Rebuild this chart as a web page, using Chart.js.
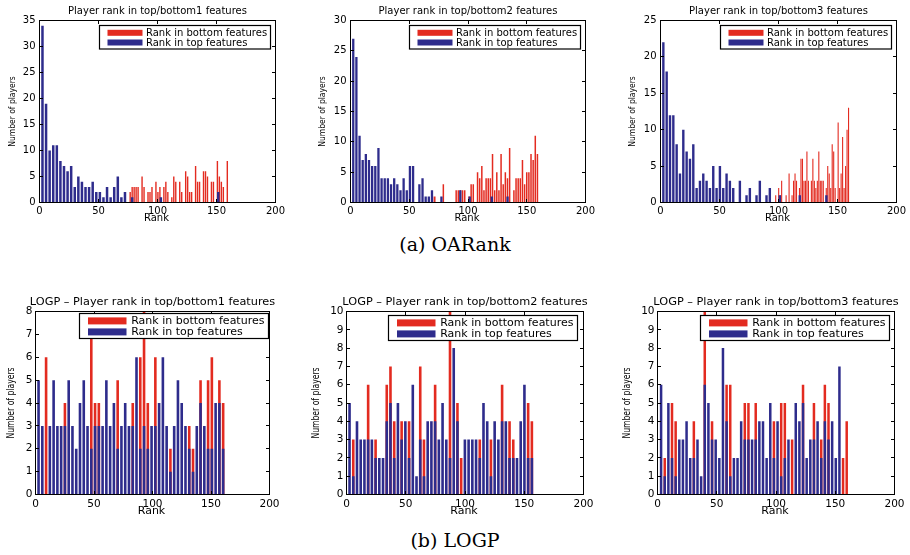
<!DOCTYPE html>
<html><head><meta charset="utf-8">
<script src="https://cdn.jsdelivr.net/npm/chart.js@4.4.1/dist/chart.umd.min.js"></script>
<style>
html,body{margin:0;padding:0;background:#fff;}
body{width:910px;height:555px;position:relative;overflow:hidden;}
canvas{position:absolute;}
.cap{position:absolute;font-family:"DejaVu Serif",serif;font-size:19px;line-height:22px;color:#000;white-space:nowrap;transform:translateX(-50%);}
</style></head><body>
<canvas id="a1" width="303" height="226" style="left:0;top:0"></canvas>
<canvas id="a2" width="303" height="226" style="left:303px;top:0"></canvas>
<canvas id="a3" width="304" height="226" style="left:606px;top:0"></canvas>
<canvas id="b1" width="303" height="230" style="left:0;top:290px"></canvas>
<canvas id="b2" width="303" height="230" style="left:303px;top:290px"></canvas>
<canvas id="b3" width="304" height="230" style="left:606px;top:290px"></canvas>
<div class="cap" style="left:455px;top:233px">(a) OARank</div>
<div class="cap" style="left:455px;top:529px">(b) LOGP</div>
<script>
// ---------- data ----------
const xTicks = [0, 50, 100, 150, 200];
const legendLabels = ['Rank in bottom features', 'Rank in top features'];
const titlesA = ['Player rank in top/bottom1 features', 'Player rank in top/bottom2 features', 'Player rank in top/bottom3 features'];
const titlesB = ['LOGP – Player rank in top/bottom1 features', 'LOGP – Player rank in top/bottom2 features', 'LOGP – Player rank in top/bottom3 features'];

// OARank, top/bottom1 (histogram bin ranges, then counts)
const oa1TopRange = [1, 153];
const oa1Top = [34,19,10,11,11,8,7,6,7,3, 5,4,3,3,4,2,2,1,3,1, 3,5,1,2,0,1,0,0,0,0, 0,0,0,1,0,0,0,0,0,0, 0,0,0,0,0,0,0,0,0,2];
const oa1BottomRange = [76, 160];
const oa1Bottom = [2,3,3,3,3,0,5,3,0,2, 2,3,0,4,2,3,0,3,4,2, 0,1,5,4,0,4,2,0,6,5, 2,2,0,7,4,4,0,6,6,5, 0,4,4,0,8,5,4,3,0,8];

// OARank, top/bottom2
const oa2TopRange = [1, 135];
const oa2Top = [27,24,11,7,8,7,6,6,9,4, 4,4,3,4,3,2,4,2,6,6, 0,3,4,1,1,2,0,0,1,0, 0,0,0,0,2,0,0,1,0,0, 0,0,0,0,1,0,0,0,0,1];
const oa2BottomRange = [69, 160];
const oa2Bottom = [1,1,0,0,0,3,0,0,0,0, 0,2,2,2,2,2,0,1,3,3, 0,5,4,6,2,4,4,4,8,2, 5,2,8,3,5,4,9,0,2,4, 4,4,7,3,5,5,8,7,11,8];

// OARank, top/bottom3
const oa3TopRange = [1, 142];
const oa3Top = [22,18,12,12,8,4,10,7,6,8, 2,3,4,3,2,5,2,5,2,4, 3,2,0,3,0,1,2,0,1,3, 0,1,2,0,0,1,0,0,0,0, 0,1,0,0,0,0,0,0,0,1];
const oa3BottomRange = [97, 160];
const oa3Bottom = [1,0,2,1,3,0,0,1,0,4, 0,1,3,4,3,0,2,6,6,3, 3,7,3,0,3,6,3,2,3,7, 3,3,3,0,2,5,4,2,8,7, 2,0,11,2,4,9,2,5,10,13];

// LOGP, top/bottom1
const lg1Range = [1, 162];
const lg1Top = [5,3,0,3,5,3,3,3,5,3, 2,4,5,3,2,3,3,3,5,3, 4,2,3,4,3, 3,6,2,3,2, 3,3,4,6,3, 1,3,5,4,3, 2,1,3,4,3, 2,2,4,4,2];
const lg1Bottom = [0,0,6,0,0,0,0,4,0,0, 0,0,0,0,7,4,4,0,0,0, 0,5,0,0,0, 4,0,6,8,4, 0,6,0,0,0, 2,0,0,0,0, 3,2,0,5,0, 5,6,0,5,4];

// LOGP, top/bottom2
const lg2Range = [1, 158];
const lg2Top = [5,1,4,3,3,3,3,2,2,2, 4,5,2,5,3,4,2,6,1,3, 1,4,4,4,3, 5,3,2,8,4, 0,3,3,3,3, 2,5,4,1,4, 3,4,4,2,2, 2,4,6,2,2];
const lg2Bottom = [0,3,0,0,0,6,0,3,0,0, 6,7,4,0,4,0,4,0,0,7, 3,0,0,6,0, 0,0,10,0,5, 2,0,0,0,0, 3,0,0,3,0, 0,6,0,4,3, 0,0,0,5,4];

// LOGP, top/bottom3
const lg3Range = [1.5, 161.2];
const lg3Top = [6,1,5,2,1,3,3,4,2,2, 3,1,6,5,3,3,2,8,4,1, 2,2,4,3,3,3,3,4,4,2, 5,2,4,1,2,3,0,5,4,5, 2,3,3,4,2,4,3,4,2,7, 0,0];
const lg3Bottom = [0,2,0,5,4,0,0,0,0,4, 0,0,10,0,4,0,0,0,6,6, 0,0,0,5,5,0,5,0,0,0, 0,4,0,5,5,0,3,0,0,6, 0,0,5,0,3,6,5,0,0,0, 2,4];

// ---------- drawing ----------
const RED = '#e32b20';
const BLUE = '#2e2c8c';
const FONT = '"DejaVu Sans", sans-serif';

function binCenters(range, values) {
  const w = (range[1] - range[0]) / values.length;
  return values.map((_, i) => range[0] + (i + 0.5) * w);
}
function points(range, values) {
  const xs = binCenters(range, values);
  return values.map((v, i) => ({x: xs[i], y: v}));
}

const matlabPlugin = {
  id: 'matlab',
  afterDraw(chart, args, o) {
    const {ctx, chartArea: a, scales: {x, y}} = chart;
    ctx.save();
    ctx.strokeStyle = '#000';
    ctx.lineWidth = 1;
    const tl = 3.5;
    ctx.beginPath();
    x.ticks.forEach(t => {
      const px = Math.floor(x.getPixelForValue(t.value)) + 0.5;
      ctx.moveTo(px, a.bottom); ctx.lineTo(px, a.bottom - tl);
      ctx.moveTo(px, a.top); ctx.lineTo(px, a.top + tl);
    });
    y.ticks.forEach(t => {
      const py = Math.floor(y.getPixelForValue(t.value)) + 0.5;
      ctx.moveTo(a.left, py); ctx.lineTo(a.left + tl, py);
      ctx.moveTo(a.right, py); ctx.lineTo(a.right - tl, py);
    });
    ctx.stroke();
    ctx.strokeRect(a.left, a.top, a.right - a.left, a.bottom - a.top);

    ctx.fillStyle = '#000';
    // title
    ctx.font = o.titleSize + 'px ' + FONT;
    ctx.textAlign = 'center';
    ctx.textBaseline = 'middle';
    ctx.fillText(o.title, (a.left + a.right) / 2, o.titleY);
    // x label
    ctx.font = o.labelSize + 'px ' + FONT;
    ctx.fillText('Rank', (a.left + a.right) / 2 - 1, a.bottom + o.xlabOff);
    // y label (compressed)
    ctx.save();
    ctx.translate(a.left + o.ylabOff, (a.top + a.bottom) / 2);
    ctx.rotate(-Math.PI / 2);
    ctx.scale(o.ylabScale, 1);
    ctx.font = o.ylabSize + 'px ' + FONT;
    ctx.fillText('Number of players', 0, 0);
    ctx.restore();
    // legend
    const lg = o.legend;
    const bx = Math.floor(a.right - lg.inset - lg.w) + 0.5;
    const by = Math.floor(a.top + lg.top) + 0.5;
    ctx.fillStyle = '#fff';
    ctx.fillRect(bx, by, lg.w, lg.h);
    ctx.lineWidth = 1.2;
    ctx.strokeStyle = '#000';
    ctx.strokeRect(bx, by, lg.w, lg.h);
    const rows = [[legendLabels[0], RED, lg.r1], [legendLabels[1], BLUE, lg.r2]];
    ctx.font = lg.size + 'px ' + FONT;
    ctx.textAlign = 'left';
    rows.forEach(([txt, col, ry]) => {
      ctx.fillStyle = col;
      ctx.fillRect(bx + lg.s0, by + ry - lg.lw / 2, lg.s1 - lg.s0, lg.lw);
      ctx.fillStyle = '#000';
      ctx.fillText(txt, bx + lg.tx, by + ry + 0.5);
    });
    ctx.restore();
  }
};

function makePanel(id, p) {
  const canvas = document.getElementById(id);
  const W = canvas.width, H = canvas.height;
  const [L, T, R, B] = p.area;
  new Chart(canvas, {
    type: 'bar',
    data: {
      datasets: [
        {label: legendLabels[0], data: points(p.botRange, p.bot), backgroundColor: RED, borderWidth: 0,
         inflateAmount: 0, barThickness: p.botW, grouped: false, order: 2},
        {label: legendLabels[1], data: points(p.topRange, p.top), backgroundColor: BLUE, borderWidth: 0,
         inflateAmount: 0, barThickness: p.topW, grouped: false, order: 1}
      ]
    },
    options: {
      responsive: false, animation: false, devicePixelRatio: 1,
      layout: {padding: {left: 0, top: T, right: W - R, bottom: 0}},
      plugins: {legend: {display: false}, title: {display: false}, tooltip: {enabled: false}, matlab: p.deco},
      scales: {
        x: {type: 'linear', min: 0, max: 200, offset: false,
            afterBuildTicks: s => { s.ticks = xTicks.map(v => ({value: v})); },
            ticks: {font: {family: FONT, size: p.tickSize}, color: '#000', padding: p.xPad, maxRotation: 0, autoSkip: false},
            grid: {display: false, drawTicks: false}, border: {display: false},
            afterFit: s => { s.height = H - B; }},
        y: {min: 0, max: p.ymax,
            ticks: {stepSize: p.ystep, font: {family: FONT, size: p.tickSize}, color: '#000', padding: p.yPad, autoSkip: false},
            grid: {display: false, drawTicks: false}, border: {display: false},
            afterFit: s => { s.width = L; }}
      }
    },
    plugins: [matlabPlugin]
  });
}

const legA = {inset: 5, w: 171, h: 23.5, top: 4.5, s0: 8, s1: 43, tx: 46.5, r1: 7.3, r2: 17, lw: 6, size: 10};
const legB = (inset, top) => ({inset, w: 189, h: 25, top, s0: 8.5, s1: 47, tx: 51.7, r1: 7.4, r2: 18.4, lw: 7, size: 11});
const decoA = (i, ylabOff) => ({title: titlesA[i], titleSize: 10, titleY: 11, labelSize: 10, xlabOff: 15.5, ylabOff, ylabSize: 9.5, ylabScale: 0.8, legend: legA});
const decoB = (i, ylabOff, leg) => ({title: titlesB[i], titleSize: 11.3, titleY: 12, labelSize: 11, xlabOff: 16.5, ylabOff, ylabSize: 10.5, ylabScale: 0.73, legend: leg});

makePanel('a1', {area: [39.5, 20.5, 275.5, 202.5], ymax: 35, ystep: 5, tickSize: 10, xPad: 3, yPad: 4,
  topRange: oa1TopRange, top: oa1Top, botRange: oa1BottomRange, bot: oa1Bottom, topW: 2.5, botW: 1.4, deco: decoA(0, -27)});
makePanel('a2', {area: [47.5, 20.5, 282.5, 202.5], ymax: 30, ystep: 5, tickSize: 10, xPad: 3, yPad: 4,
  topRange: oa2TopRange, top: oa2Top, botRange: oa2BottomRange, bot: oa2Bottom, topW: 2.3, botW: 1.5, deco: decoA(1, -28)});
makePanel('a3', {area: [54.5, 20.5, 290.5, 202.5], ymax: 25, ystep: 5, tickSize: 10, xPad: 3, yPad: 4,
  topRange: oa3TopRange, top: oa3Top, botRange: oa3BottomRange, bot: oa3Bottom, topW: 2.4, botW: 1.1, deco: decoA(2, -28)});
makePanel('b1', {area: [35.5, 21.5, 269.5, 204.5], ymax: 8, ystep: 1, tickSize: 10.5, xPad: 3, yPad: 3,
  topRange: lg1Range, top: lg1Top, botRange: lg1Range, bot: lg1Bottom, topW: 2.6, botW: 2.6, deco: decoB(0, -24, legB(1, 1.8))});
makePanel('b2', {area: [43.5, 21.5, 280.5, 204.5], ymax: 10, ystep: 1, tickSize: 10.5, xPad: 3, yPad: 3,
  topRange: lg2Range, top: lg2Top, botRange: lg2Range, bot: lg2Bottom, topW: 2.6, botW: 2.6, deco: decoB(1, -30, legB(6, 3.5))});
makePanel('b3', {area: [51.5, 21.5, 288.5, 204.5], ymax: 10, ystep: 1, tickSize: 10.5, xPad: 3, yPad: 3,
  topRange: lg3Range, top: lg3Top, botRange: lg3Range, bot: lg3Bottom, topW: 2.5, botW: 2.5, deco: decoB(2, -30, legB(5.5, 3.5))});
</script>
</body></html>
